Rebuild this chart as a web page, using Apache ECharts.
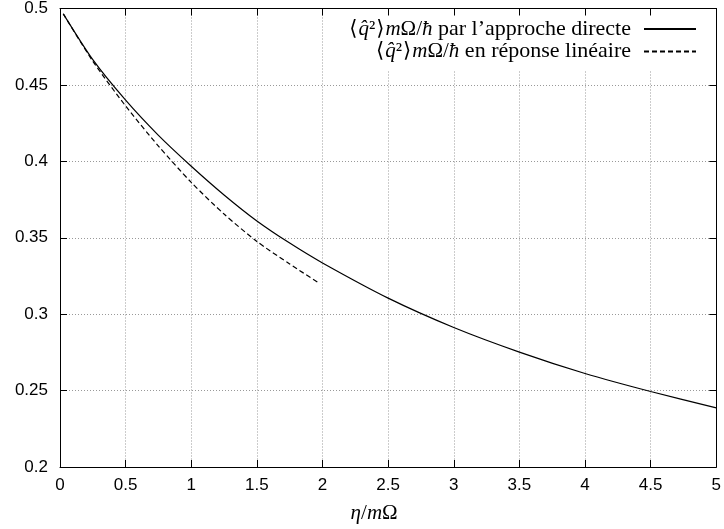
<!DOCTYPE html>
<html>
<head>
<meta charset="utf-8">
<script src="https://cdn.jsdelivr.net/npm/echarts@6/dist/echarts.min.js"></script>
<style>
  html, body { margin: 0; padding: 0; background: #fff; }
  #chart { width: 724px; height: 529px; }
</style>
</head>
<body>
<div id="chart"></div>
<script>
// eta / m Omega
const etaDirect = [0.025, 0.25, 0.5, 0.75, 1, 1.25, 1.5, 1.75, 2, 2.5, 3, 3.5, 4, 4.5, 5];
const qDirect = [0.4965, 0.4665, 0.44, 0.417, 0.3968, 0.378, 0.361, 0.3465, 0.3335, 0.3105, 0.2913, 0.2752, 0.2612, 0.2494, 0.2387];

const etaLinear = [0.025, 0.25, 0.5, 0.75, 1, 1.25, 1.5, 1.75, 1.975];
const qLinear = [0.4965, 0.4655, 0.4362, 0.41, 0.3862, 0.3655, 0.3476, 0.3328, 0.3203];

const nameDirect = "directe";
const nameLinear = "linéaire";
const legendText = {
  [nameDirect]: "par l’approche directe",
  [nameLinear]: "en réponse linéaire",
};

const serif = "'Liberation Serif', 'DejaVu Serif', serif";
const sans = "'Liberation Sans', Arial, sans-serif";
const gridColor = "#999";

const toPairs = (xs, ys) => xs.map((x, i) => [x, ys[i]]);

const chart = echarts.init(document.getElementById("chart"));

const axisBase = {
  type: "value",
  axisLine: { show: true, onZero: false, lineStyle: { color: "#000", width: 1 } },
  axisTick: { show: true, inside: true, length: 7, lineStyle: { color: "#000" } },
};

const mathSize = 21;
const textSize = 22;

chart.setOption({
  animation: false,
  backgroundColor: "#fff",
  grid: { left: 60, right: 5, top: 8, bottom: 61, containLabel: false },
  legend: {
    orient: "vertical",
    right: 12,
    top: 8,
    align: "right",
    padding: [10, 15, 8, 10],
    itemWidth: 52,
    itemHeight: 14,
    itemGap: 0.5,
    backgroundColor: "#fff",
    itemStyle: { opacity: 0 },
    data: [nameDirect, nameLinear],
    formatter: (name) =>
      "{b|⟨}{i|q̂}{r|²}{b|⟩}{i|m}{r|Ω/}{i|ħ}{t| " + legendText[name] + "}{sp| }",
    textStyle: {
      color: "#000",
      fontFamily: serif,
      fontSize: textSize,
      lineHeight: 14,
      rich: {
        b: { fontFamily: serif, fontSize: mathSize, lineHeight: 14, color: "#000", padding: [0, 1, 0, 1] },
        r: { fontFamily: serif, fontSize: mathSize, lineHeight: 14, color: "#000" },
        i: { fontFamily: serif, fontStyle: "italic", fontSize: mathSize, lineHeight: 14, color: "#000" },
        t: { fontFamily: serif, fontSize: textSize, lineHeight: 14, color: "#000" },
        sp: { width: 8, fontSize: textSize, lineHeight: 14 },
      },
    },
  },
  xAxis: [
    {
      ...axisBase,
      position: "bottom",
      min: 0,
      max: 5,
      interval: 0.5,
      axisLabel: { color: "#000", fontFamily: sans, fontSize: 17, margin: 10 },
      splitLine: { show: true, lineStyle: { color: gridColor, type: [1, 2], width: 1 } },
      name: "{i|η}{r|/}{i|m}{r|Ω}",
      nameLocation: "middle",
      nameGap: 36,
      nameTextStyle: {
        padding: [0, 28, 0, 0],
        rich: {
          i: { fontFamily: serif, fontStyle: "italic", fontSize: 21, color: "#000" },
          r: { fontFamily: serif, fontSize: 21, color: "#000" },
        },
      },
    },
    {
      ...axisBase,
      position: "top",
      z: 10,
      min: 0,
      max: 5,
      interval: 0.5,
      axisLabel: { show: false },
      splitLine: { show: false },
    },
  ],
  yAxis: [
    {
      ...axisBase,
      position: "left",
      min: 0.2,
      max: 0.5,
      interval: 0.05,
      axisLabel: { color: "#000", fontFamily: sans, fontSize: 17, margin: 12 },
      splitLine: { show: true, lineStyle: { color: gridColor, type: [1, 2], width: 1 } },
    },
    {
      ...axisBase,
      position: "right",
      z: 10,
      min: 0.2,
      max: 0.5,
      interval: 0.05,
      axisLabel: { show: false },
      splitLine: { show: false },
    },
  ],
  series: [
    {
      name: nameDirect,
      type: "line",
      data: toPairs(etaDirect, qDirect),
      showSymbol: false,
      symbol: "none",
      smooth: 0.25,
      lineStyle: { color: "#000", width: 1.2, type: "solid" },
      itemStyle: { color: "#000" },
    },
    {
      name: nameLinear,
      type: "line",
      data: toPairs(etaLinear, qLinear),
      showSymbol: false,
      symbol: "none",
      smooth: 0.25,
      lineStyle: { color: "#000", width: 1.2, type: [5, 3] },
      itemStyle: { color: "#000" },
    },
  ],
});
</script>
</body>
</html>
